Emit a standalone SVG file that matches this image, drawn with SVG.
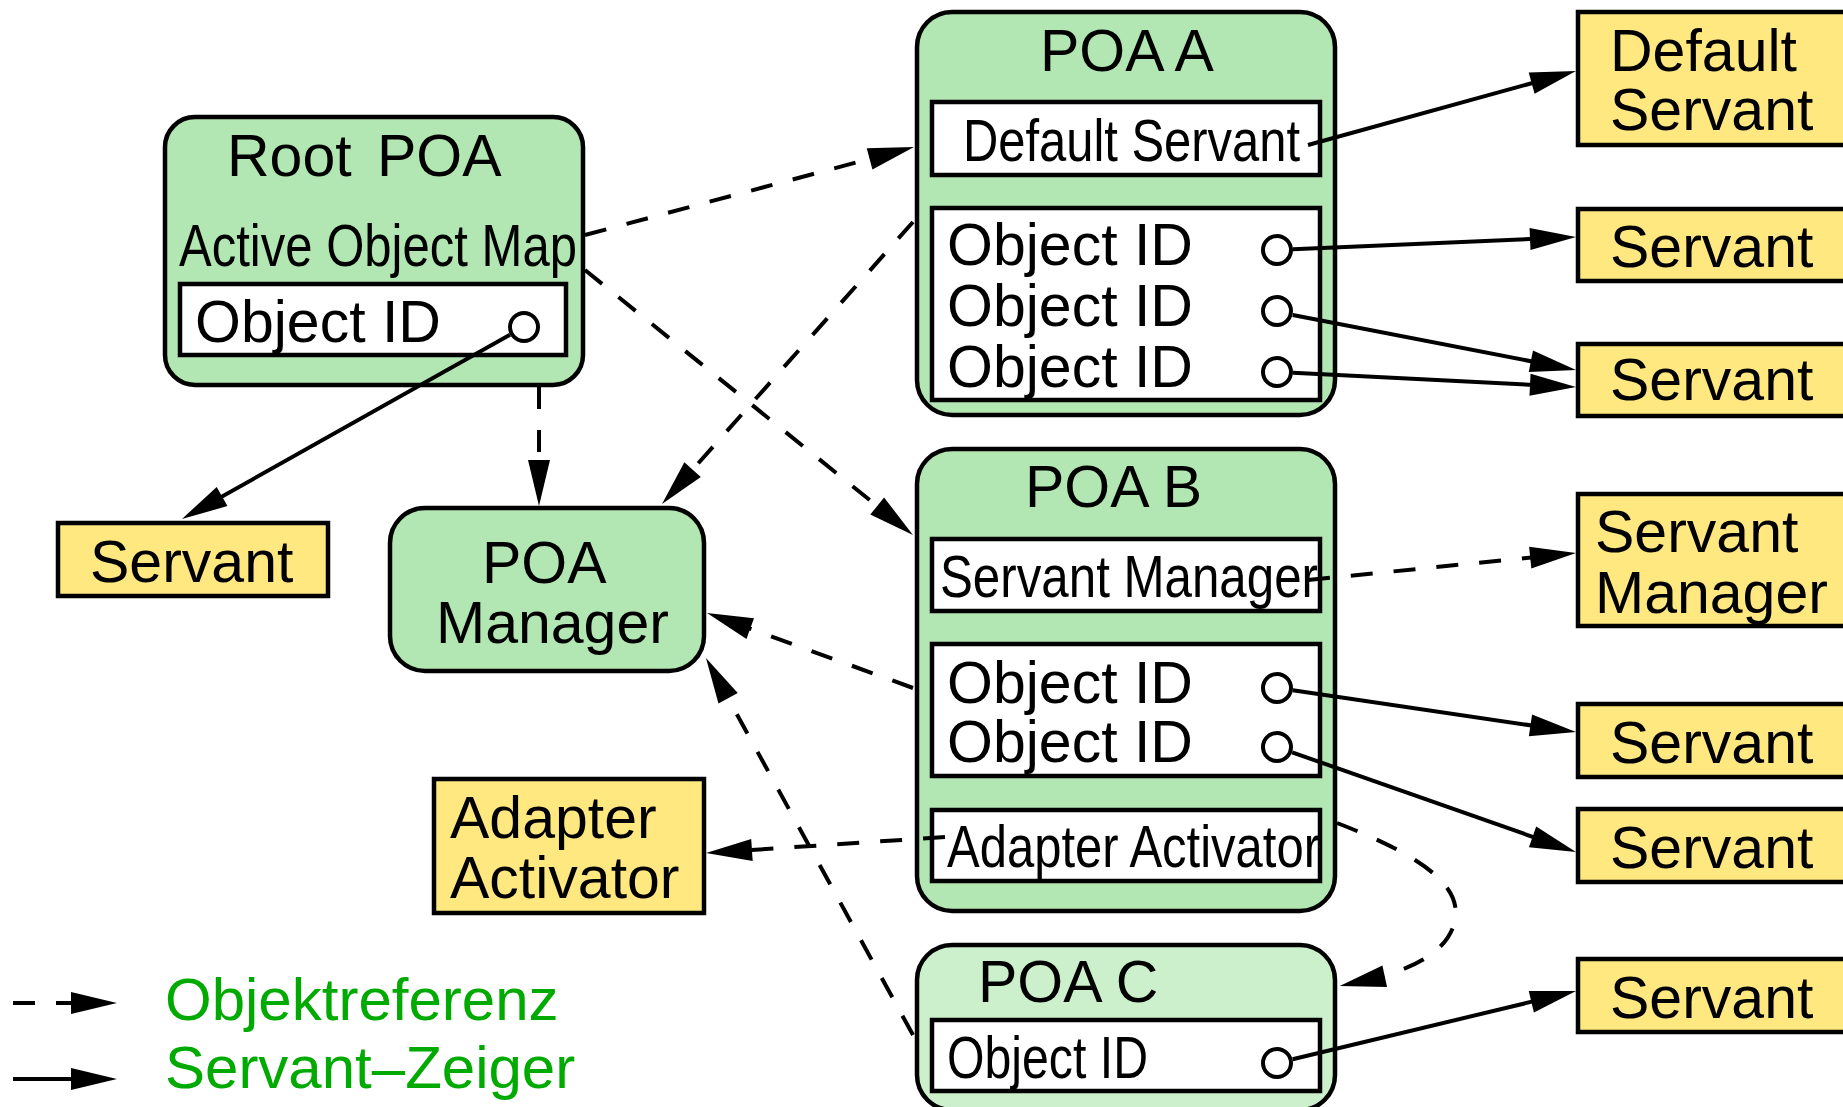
<svg xmlns="http://www.w3.org/2000/svg" width="1843" height="1107" viewBox="0 0 1843 1107">
  <style>
    text { font-family: "Liberation Sans", Arial, sans-serif; font-size: 59px; fill: #000; }
    .poa { fill: #b2e6b2; stroke: #000; stroke-width: 4.5; }
    .poa-light { fill: #ccf0cc; stroke: #000; stroke-width: 4.5; }
    .slot { fill: #fff; stroke: #000; stroke-width: 4.5; }
    .obj { fill: #ffe880; stroke: #000; stroke-width: 4.5; }
    .hole { fill: #fff; stroke: #000; stroke-width: 4; }
    .ref { fill: none; stroke: #000; stroke-width: 4; stroke-dasharray: 22 21; marker-end: url(#head); }
    .ptr { fill: none; stroke: #000; stroke-width: 4; marker-end: url(#head); }
    .legend { fill: #00aa00; font-size: 60px; }
  </style>
  <defs>
    <marker id="head" markerUnits="userSpaceOnUse" viewBox="0 0 46 22" markerWidth="46" markerHeight="22" refX="26" refY="11" orient="auto" overflow="visible">
      <path d="M0,0 L46,11 L0,22 z" fill="#000"/>
    </marker>
  </defs>

  <rect width="1843" height="1107" fill="#fff"/>

  <!-- Root POA -->
  <g id="root-poa">
    <rect class="poa" x="165" y="117" width="418" height="268" rx="30"/>
    <text x="227" y="176">Root</text>
    <text x="377" y="176">POA</text>
    <text x="179" y="266" textLength="398" lengthAdjust="spacingAndGlyphs">Active Object Map</text>
    <rect class="slot" x="180" y="284" width="386" height="71"/>
    <text x="195" y="342">Object ID</text>
    <circle class="hole" cx="524" cy="327" r="14"/>
  </g>

  <!-- Servant held by the root POA -->
  <g id="servant-root">
    <rect class="obj" x="58" y="523" width="270" height="73"/>
    <text x="90" y="582">Servant</text>
  </g>

  <!-- POA Manager -->
  <g id="poa-manager">
    <rect class="poa" x="390" y="508" width="314" height="163" rx="35"/>
    <text x="482" y="583">POA</text>
    <text x="436" y="643">Manager</text>
  </g>

  <!-- Adapter Activator object -->
  <g id="adapter-activator">
    <rect class="obj" x="434" y="779" width="270" height="134"/>
    <text x="450" y="838">Adapter</text>
    <text x="450" y="898">Activator</text>
  </g>

  <!-- POA A -->
  <g id="poa-a">
    <rect class="poa" x="917" y="12" width="418" height="403" rx="35"/>
    <text x="1040" y="71">POA A</text>
    <rect class="slot" x="932" y="102" width="388" height="73"/>
    <text x="963" y="161" textLength="337" lengthAdjust="spacingAndGlyphs">Default Servant</text>
    <rect class="slot" x="932" y="208" width="388" height="192"/>
    <text x="947" y="265">Object ID</text>
    <text x="947" y="326">Object ID</text>
    <text x="947" y="387">Object ID</text>
    <circle class="hole" cx="1277" cy="250" r="14"/>
    <circle class="hole" cx="1277" cy="311" r="14"/>
    <circle class="hole" cx="1277" cy="372" r="14"/>
  </g>

  <!-- POA B -->
  <g id="poa-b">
    <rect class="poa" x="917" y="449" width="418" height="462" rx="35"/>
    <text x="1025" y="507">POA B</text>
    <rect class="slot" x="932" y="539" width="388" height="72"/>
    <text x="940" y="597" textLength="378" lengthAdjust="spacingAndGlyphs">Servant Manager</text>
    <rect class="slot" x="932" y="644" width="388" height="132"/>
    <text x="947" y="703">Object ID</text>
    <text x="947" y="762">Object ID</text>
    <circle class="hole" cx="1277" cy="688" r="14"/>
    <circle class="hole" cx="1277" cy="747" r="14"/>
    <rect class="slot" x="932" y="810" width="388" height="71"/>
    <text x="947" y="867" textLength="373" lengthAdjust="spacingAndGlyphs">Adapter Activator</text>
  </g>

  <!-- POA C -->
  <g id="poa-c">
    <rect class="poa-light" x="917" y="945" width="418" height="165" rx="35"/>
    <text x="978" y="1002">POA C</text>
    <rect class="slot" x="932" y="1020" width="388" height="71"/>
    <text x="947" y="1078" textLength="201" lengthAdjust="spacingAndGlyphs">Object ID</text>
    <circle class="hole" cx="1277" cy="1063" r="14"/>
  </g>

  <!-- Servant objects on the right -->
  <g id="default-servant">
    <rect class="obj" x="1578" y="12" width="300" height="133"/>
    <text x="1610" y="71">Default</text>
    <text x="1610" y="130">Servant</text>
  </g>
  <g id="servant-a1">
    <rect class="obj" x="1578" y="209" width="300" height="72"/>
    <text x="1610" y="267">Servant</text>
  </g>
  <g id="servant-a2">
    <rect class="obj" x="1578" y="344" width="300" height="72"/>
    <text x="1610" y="400">Servant</text>
  </g>
  <g id="servant-manager">
    <rect class="obj" x="1578" y="494" width="300" height="132"/>
    <text x="1595" y="552">Servant</text>
    <text x="1595" y="613">Manager</text>
  </g>
  <g id="servant-b1">
    <rect class="obj" x="1578" y="704" width="300" height="73"/>
    <text x="1610" y="763">Servant</text>
  </g>
  <g id="servant-b2">
    <rect class="obj" x="1578" y="809" width="300" height="73"/>
    <text x="1610" y="868">Servant</text>
  </g>
  <g id="servant-c1">
    <rect class="obj" x="1578" y="959" width="300" height="73"/>
    <text x="1610" y="1018">Servant</text>
  </g>

  <!-- Connectors -->
  <g id="connectors">
    <!-- object references (dashed) -->
    <path class="ref" d="M585,235 L894.7,152.2"/>
    <path class="ref" d="M585,270 L897.4,522.4"/>
    <path class="ref" d="M539,387 L539,486"/>
    <path class="ref" d="M913,222 L675.3,489.1"/>
    <path class="ref" d="M913,688 L725.8,619.8"/>
    <path class="ref" d="M913,1035 L715.6,675.5"/>
    <path class="ref" d="M945,837 L726,851.7"/>
    <path class="ref" d="M1308,580 L1556.1,555"/>
    <path class="ref" d="M1337,823 C1420,855 1462,885 1455,920 C1448,955 1405,972 1359.3,981.8"/>
    <!-- servant pointers (solid) -->
    <path class="ptr" d="M510,334.8 L199.4,509.2"/>
    <path class="ptr" d="M1308,145 L1556.7,76.3"/>
    <path class="ptr" d="M1293,249.3 L1556,237.9"/>
    <path class="ptr" d="M1292.7,315 L1556.4,366.2"/>
    <path class="ptr" d="M1293,372.8 L1556,386"/>
    <path class="ptr" d="M1292.8,690.3 L1556.2,729.1"/>
    <path class="ptr" d="M1292.1,752.3 L1557.1,845.4"/>
    <path class="ptr" d="M1292.6,1059.3 L1556.6,995.7"/>
  </g>

  <!-- Legend -->
  <g id="legend">
    <path class="ref" d="M13,1003 L97,1003" stroke-dasharray="22 23"/>
    <text class="legend" x="165" y="1020">Objektreferenz</text>
    <path class="ptr" d="M13,1079 L97,1079"/>
    <text class="legend" x="165" y="1088">Servant–Zeiger</text>
  </g>
</svg>
